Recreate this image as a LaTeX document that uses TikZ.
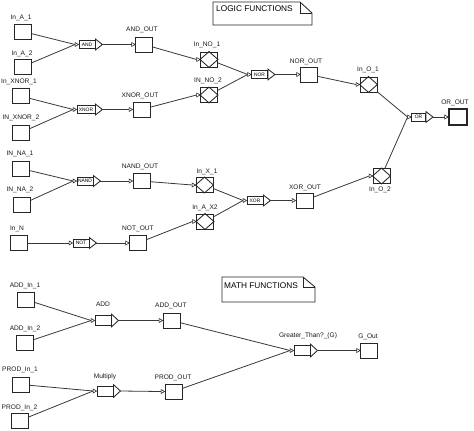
\documentclass[tikz,border=0pt]{standalone}
\usepackage{fontspec}
\setmainfont{Liberation Sans}
\tikzset{
  ln/.style={draw=black!85, line width=0.85pt},
  wire/.style={draw=black!78, line width=0.8pt},
  box/.style={ln, rectangle, minimum width=17pt, minimum height=15pt, inner sep=0pt},
  thickbox/.style={box, line width=1.8pt, minimum width=18pt, minimum height=16pt},
  lbl/.style={font=\fontsize{6.6}{7}\selectfont, inner sep=0pt, text=black!90},
  gatebox/.style={ln, rectangle, inner sep=0pt, font=\fontsize{4.9}{5}\selectfont},
  notetext/.style={font=\fontsize{8.3}{9}\selectfont, inner sep=0pt, anchor=west},
}
\newcommand\mkpin[1]{%
  \coordinate (#1-in) at ([xshift=-3.5pt]#1.west);
  \draw[ln, line width=0.6pt] ([yshift=2pt]#1-in) -- (#1.west) -- ([yshift=-2pt]#1-in) -- cycle;
}
\newcommand\mkin[6]{% name, x, y, label, lx, ly
  \node[box] (#1) at (#2,#3) {};
  \node[lbl] (#1-l) at (#5,#6) {#4};
}
\newcommand\mkout[6]{%
  \node[box] (#1) at (#2,#3) {};
  \node[lbl] (#1-l) at (#5,#6) {#4};
  \mkpin{#1}
}
\newcommand\mkdia[6]{%
  \node[box] (#1) at (#2,#3) {};
  \draw[ln] (#1.north) -- (#1.east) -- (#1.south) -- (#1.west) -- cycle;
  \node[lbl] (#1-l) at (#5,#6) {#4};
  \mkpin{#1}
}
\newcommand\mkgate[6]{% name, x, y, text, width, height
  \node[gatebox, minimum width=#5pt, minimum height=#6pt] (#1) at (#2,#3) {#4};
  \draw[ln] ([yshift=1pt]#1.north east) -- ([xshift=7pt]#1.east) -- ([yshift=-1pt]#1.south east) -- cycle;
  \coordinate (#1-out) at ([xshift=7pt]#1.east);
  \mkpin{#1}
}
\begin{document}
\begin{tikzpicture}[x=1pt,y=-1pt]
\useasboundingbox (0,0) rectangle (474,431);

% notes
\draw[ln] (213,2) -- (300,2) -- (312,13) -- (312,25) -- (213,25) -- cycle;
\draw[ln] (300,2) -- (300,13) -- (312,13);
\node[notetext] (logicnote) at (216,8.5) {LOGIC FUNCTIONS};
\draw[ln] (222,277) -- (303,277) -- (315,287) -- (315,302) -- (222,302) -- cycle;
\draw[ln] (303,277) -- (303,287) -- (315,287);
\node[notetext] (mathnote) at (224,285.5) {MATH FUNCTIONS};

% inputs
\mkin{ia1}{23}{31.5}{In\_A\_1}{21}{18}
\mkin{ia2}{23}{66.5}{In\_A\_2}{22}{53.5}
\mkin{ix1}{20.5}{96}{In\_XNOR\_1}{19}{82}
\mkin{ix2}{21}{132.5}{IN\_XNOR\_2}{21}{117.5}
\mkin{ina1}{21}{168.5}{IN\_NA\_1}{20}{154}
\mkin{ina2}{21.5}{204.5}{IN\_NA\_2}{20}{190}
\mkin{inn}{18.5}{243}{In\_N}{17}{228.5}
\mkin{add1}{25.5}{299.5}{ADD\_In\_1}{25}{286}
\mkin{add2}{25}{342.5}{ADD\_In\_2}{25}{328.5}
\mkin{prod1}{21}{384.5}{PROD\_In\_1}{20}{370}
\mkin{prod2}{20}{420.5}{PROD\_In\_2}{19.5}{408}

% gates
\mkgate{gand}{87}{44.5}{AND}{16}{8}
\mkgate{gxnor}{86}{109.5}{XNOR}{18}{8}
\mkgate{gnor}{259.5}{74.5}{NOR}{16}{8}
\mkgate{gor}{418.5}{117}{OR}{14}{8}
\mkgate{gnand}{85}{181}{NAND}{16}{8}
\mkgate{gnot}{81}{243}{NOT}{16}{8}
\mkgate{gxor}{255}{200.5}{XOR}{16}{8}
\mkgate{gadd}{103}{320.5}{}{16}{10}
\mkgate{gmul}{105}{391}{}{16}{10}
\mkgate{ggt}{302}{350.5}{}{16}{10}
\node[lbl] (gadd-l) at (103,304.5) {ADD};
\node[lbl] (gmul-l) at (105,376.5) {Multiply};
\node[lbl] (ggt-l) at (308,335.5) {Greater\_Than?\_(G)};

% outputs
\mkout{andout}{144}{44.5}{AND\_OUT}{142}{30}
\mkout{xnorout}{141.5}{109.5}{XNOR\_OUT}{140}{95.5}
\mkout{norout}{309}{74.5}{NOR\_OUT}{306}{62}
\node[thickbox] (orout) at (458,117) {};
\node[lbl] (orout-l) at (455,103) {OR\_OUT};
\mkpin{orout}
\mkout{nandout}{141.5}{181}{NAND\_OUT}{140}{167}
\mkout{notout}{138}{243}{NOT\_OUT}{138}{228.5}
\mkout{xorout}{304.5}{200.5}{XOR\_OUT}{305}{188}
\mkout{addout}{171.5}{320.5}{ADD\_OUT}{171}{306}
\mkout{prodout}{173.5}{391.5}{PROD\_OUT}{173}{377.5}
\mkout{gout}{369}{350.5}{G\_Out}{368}{337}

% diamond boxes
\mkdia{ino1}{209}{59.5}{In\_NO\_1}{207}{45}
\mkdia{ino2}{209}{95}{IN\_NO\_2}{208}{81}
\mkdia{io1}{368.5}{84.5}{In\_O\_1}{368}{70}
\mkdia{io2}{381.5}{176}{In\_O\_2}{380}{190}
\mkdia{ixx1}{204.5}{185}{In\_X\_1}{207}{172}
\mkdia{iax2}{205}{221.5}{In\_A\_X2}{205}{207.5}

% wires
\draw[wire] (ia1) -- (gand-in);
\draw[wire] (ia2) -- (gand-in);
\draw[wire] (ix1) -- (gxnor-in);
\draw[wire] (ix2) -- (gxnor-in);
\draw[wire] (gand-out) -- (andout-in);
\draw[wire] (gxnor-out) -- (xnorout-in);
\draw[wire] (andout) -- (ino1-in);
\draw[wire] (xnorout) -- (ino2-in);
\draw[wire] (ino1) -- (gnor-in);
\draw[wire] (ino2) -- (gnor-in);
\draw[wire] (gnor-out) -- (norout-in);
\draw[wire] (norout) -- (io1-in);
\draw[wire] (io1) -- (gor-in);
\draw[wire] (io2) -- (gor-in);
\draw[wire] (gor-out) -- (orout-in);
\draw[wire] (ina1) -- (gnand-in);
\draw[wire] (ina2) -- (gnand-in);
\draw[wire] (gnand-out) -- (nandout-in);
\draw[wire] (nandout) -- (ixx1-in);
\draw[wire] (inn) -- (gnot-in);
\draw[wire] (gnot-out) -- (notout-in);
\draw[wire] (notout) -- (iax2-in);
\draw[wire] (ixx1) -- (gxor-in);
\draw[wire] (iax2) -- (gxor-in);
\draw[wire] (gxor-out) -- (xorout-in);
\draw[wire] (xorout) -- (io2-in);
\draw[wire] (add1) -- (gadd-in);
\draw[wire] (add2) -- (gadd-in);
\draw[wire] (gadd-out) -- (addout-in);
\draw[wire] (prod1) -- (gmul-in);
\draw[wire] (prod2) -- (gmul-in);
\draw[wire] (gmul-out) -- (prodout-in);
\draw[wire] (addout) -- (ggt-in);
\draw[wire] (prodout) -- (ggt-in);
\draw[wire] (ggt-out) -- (gout-in);
\end{tikzpicture}
\end{document}
